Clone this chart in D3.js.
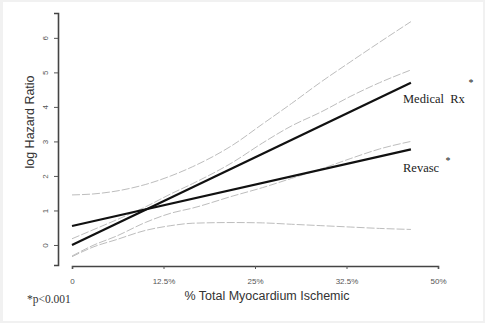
<!DOCTYPE html>
<html>
<head>
<meta charset="utf-8">
<script src="https://cdn.jsdelivr.net/npm/d3@7"></script>
<style>
  body { margin: 0; background: #f1f1f1; }
  svg { display: block; }
</style>
</head>
<body>
<svg id="chart" width="485" height="323"></svg>
<script>
// x values (% total myocardium ischemic) at which the curves were read
var xs = [0, 46.3];
var medicalRx = [0.0, 4.7];
var revasc = [0.55, 2.77];

// gray confidence curves, read point by point
var ciXs = [0, 3, 6, 10, 13.5, 16.5, 22, 26, 30, 34, 38, 42, 46.3];
var revascUpper = [1.45, 1.48, 1.56, 1.75, 2.0, 2.27, 2.9, 3.5, 4.1, 4.72, 5.3, 5.87, 6.47];
var revascLower = [-0.34, -0.05, 0.15, 0.42, 0.56, 0.63, 0.65, 0.64, 0.6, 0.56, 0.52, 0.48, 0.45];
var medicalUpper = [0.18, 0.45, 0.72, 1.1, 1.48, 1.78, 2.4, 2.95, 3.45, 3.85, 4.3, 4.7, 5.07];
var medicalLower = [-0.32, 0.0, 0.25, 0.65, 0.92, 1.07, 1.42, 1.66, 1.93, 2.2, 2.5, 2.78, 3.0];

var xTicks = [0, 12.5, 25, 37.5, 50];
var xTickLabels = ["0", "12.5%", "25%", "32.5%", "50%"];
var yTicks = [0, 1, 2, 3, 4, 5, 6];

var svg = d3.select("#chart");

svg.append("rect")
  .attr("x", 3).attr("y", 2)
  .attr("width", 480).attr("height", 319)
  .attr("fill", "#ffffff");

var x = d3.scaleLinear().domain([0, 50]).range([72, 438]);
var y = d3.scaleLinear().domain([-0.58, 6.72]).range([265, 13]);

// y axis
var yAxis = svg.append("g")
  .attr("transform", "translate(58,0)")
  .call(d3.axisLeft(y).tickValues(yTicks).tickSize(4).tickFormat(d3.format("d")));
yAxis.select(".domain").attr("stroke", "#444").attr("stroke-width", 1.6);
yAxis.selectAll(".tick line").attr("stroke", "#555");
yAxis.selectAll(".tick text")
  .attr("font-family", "Liberation Sans, Arial, sans-serif")
  .attr("font-size", 8)
  .attr("fill", "#555")
  .attr("x", 0).attr("dy", 0)
  .attr("text-anchor", "middle")
  .attr("transform", "translate(-10,0) rotate(-90)");

// x axis
var xAxis = svg.append("g")
  .attr("transform", "translate(0,266)")
  .call(d3.axisBottom(x).tickValues(xTicks).tickSize(3)
    .tickFormat(function(d, i) { return xTickLabels[i]; }));
xAxis.select(".domain").attr("stroke", "#444").attr("stroke-width", 1.6);
xAxis.selectAll(".tick line").attr("stroke", "#555");
xAxis.selectAll(".tick text")
  .attr("font-family", "Liberation Sans, Arial, sans-serif")
  .attr("font-size", 8)
  .attr("fill", "#555")
  .attr("y", 12);

var curve = d3.line()
  .x(function(d) { return x(d[0]); })
  .y(function(d) { return y(d[1]); })
  .curve(d3.curveMonotoneX);

[revascUpper, revascLower, medicalUpper, medicalLower].forEach(function(vals) {
  svg.append("path")
    .datum(ciXs.map(function(v, i) { return [v, vals[i]]; }))
    .attr("d", curve)
    .attr("fill", "none")
    .attr("stroke", "#bdbdbd")
    .attr("stroke-width", 1)
    .attr("stroke-dasharray", "8,2");
});

[medicalRx, revasc].forEach(function(vals) {
  svg.append("path")
    .datum(xs.map(function(v, i) { return [v, vals[i]]; }))
    .attr("d", d3.line().x(function(d) { return x(d[0]); }).y(function(d) { return y(d[1]); }))
    .attr("fill", "none")
    .attr("stroke", "#111")
    .attr("stroke-width", 2.2);
});

var serif = "Liberation Serif, Times New Roman, serif";
var sans = "Liberation Sans, Arial, sans-serif";

svg.append("text").attr("x", 403).attr("y", 103)
  .attr("font-family", serif).attr("font-size", 12.5).attr("fill", "#222")
  .attr("xml:space", "preserve")
  .text("Medical  Rx");
svg.append("text").attr("x", 471).attr("y", 86)
  .attr("font-family", serif).attr("font-size", 10).attr("fill", "#222")
  .attr("text-anchor", "middle").text("*");
svg.append("text").attr("x", 403).attr("y", 172)
  .attr("font-family", serif).attr("font-size", 12.5).attr("fill", "#222")
  .text("Revasc");
svg.append("text").attr("x", 448).attr("y", 164)
  .attr("font-family", serif).attr("font-size", 10).attr("fill", "#222")
  .attr("text-anchor", "middle").text("*");

svg.append("text")
  .attr("transform", "translate(34,122) rotate(-90)")
  .attr("text-anchor", "middle")
  .attr("font-family", sans).attr("font-size", 12.5).attr("fill", "#333")
  .text("log Hazard Ratio");

svg.append("text").attr("x", 267).attr("y", 300)
  .attr("text-anchor", "middle")
  .attr("font-family", sans).attr("font-size", 12.5).attr("fill", "#333")
  .text("% Total Myocardium Ischemic");

svg.append("text").attr("x", 27).attr("y", 303)
  .attr("font-family", serif).attr("font-size", 11.5).attr("fill", "#333")
  .text("*p<0.001");
</script>
</body>
</html>
